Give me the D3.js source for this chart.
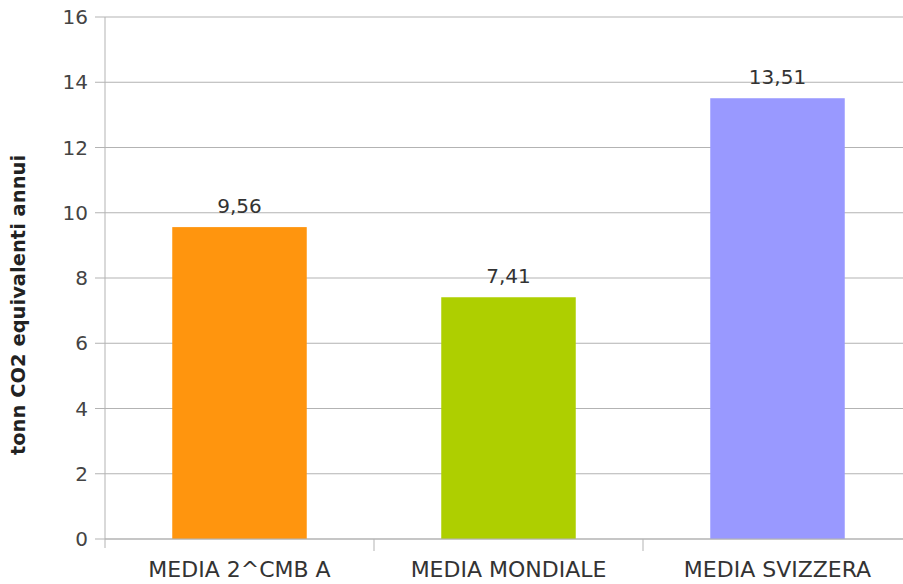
<!DOCTYPE html>
<html>
<head>
<meta charset="utf-8">
<script src="https://cdn.jsdelivr.net/npm/d3@7"></script>
<style>
  body { margin: 0; background: #fff; }
  svg { display: block; font-family: "DejaVu Sans", sans-serif; }
</style>
</head>
<body>
<div id="chart"></div>
<script>
// data
const categories = ["MEDIA 2^CMB A", "MEDIA MONDIALE", "MEDIA SVIZZERA"]
const values = [9.56, 7.41, 13.51]
const barColors = ["#ff950e", "#aecf00", "#9999ff"]
const yTicks = [0, 2, 4, 6, 8, 10, 12, 14, 16]
const yTitle = "tonn CO2 equivalenti annui"

const width = 903
const height = 584
const margin = {top: 17, right: -9, bottom: 45, left: 105}

const svg = d3.select("#chart")
  .append("svg")
    .attr("width", width)
    .attr("height", height)

const x = d3.scaleBand()
  .domain(categories)
  .range([margin.left, width - margin.right])
  .paddingInner(0.5)
  .paddingOuter(0.25)

const y = d3.scaleLinear()
  .domain([0, 16])
  .range([height - margin.bottom, margin.top])

// gridlines + y tick labels
const grid = svg.append("g")
grid.selectAll("line")
  .data(yTicks)
  .join("line")
    .attr("x1", margin.left - 10)
    .attr("x2", width)
    .attr("y1", d => y(d))
    .attr("y2", d => y(d))
    .attr("stroke", "#b3b3b3")
    .attr("stroke-width", 1)

grid.selectAll("text")
  .data(yTicks)
  .join("text")
    .attr("x", margin.left - 17)
    .attr("y", d => y(d))
    .attr("dy", "0.36em")
    .attr("text-anchor", "end")
    .attr("font-size", 20)
    .attr("fill", "#444")
    .text(d => d)

// bars
svg.append("g")
  .selectAll("rect")
  .data(values)
  .join("rect")
    .attr("x", (d, i) => x(categories[i]))
    .attr("y", d => y(d))
    .attr("width", x.bandwidth())
    .attr("height", d => y(0) - y(d))
    .attr("fill", (d, i) => barColors[i])

// value labels
svg.append("g")
  .selectAll("text")
  .data(values)
  .join("text")
    .attr("x", (d, i) => x(categories[i]) + x.bandwidth() / 2)
    .attr("y", d => y(d) - 14)
    .attr("text-anchor", "middle")
    .attr("font-size", 20)
    .attr("fill", "#333")
    .text(d => d.toFixed(2).replace(".", ","))

// axes lines
const step = x.step()
svg.append("line")
  .attr("x1", margin.left).attr("x2", margin.left)
  .attr("y1", margin.top).attr("y2", y(0) + 9)
  .attr("stroke", "#b3b3b3")
svg.append("line")
  .attr("x1", margin.left).attr("x2", width)
  .attr("y1", y(0)).attr("y2", y(0))
  .attr("stroke", "#b3b3b3")

// category separators
svg.append("g")
  .selectAll("line")
  .data(categories.slice(1))
  .join("line")
    .attr("x1", d => x(d) - step * x.paddingInner() / 2)
    .attr("x2", d => x(d) - step * x.paddingInner() / 2)
    .attr("y1", y(0))
    .attr("y2", y(0) + 12)
    .attr("stroke", "#b3b3b3")

// category labels
svg.append("g")
  .selectAll("text")
  .data(categories)
  .join("text")
    .attr("x", d => x(d) + x.bandwidth() / 2)
    .attr("y", height - 7)
    .attr("text-anchor", "middle")
    .attr("font-size", 22)
    .attr("fill", "#333")
    .text(d => d)

// y title
svg.append("text")
  .attr("transform", `translate(25, ${(y(0) + y(16)) / 2 + 27}) rotate(-90)`)
  .attr("text-anchor", "middle")
  .attr("font-size", 19.5)
  .attr("font-weight", "bold")
  .attr("fill", "#222")
  .text(yTitle)
</script>
</body>
</html>
